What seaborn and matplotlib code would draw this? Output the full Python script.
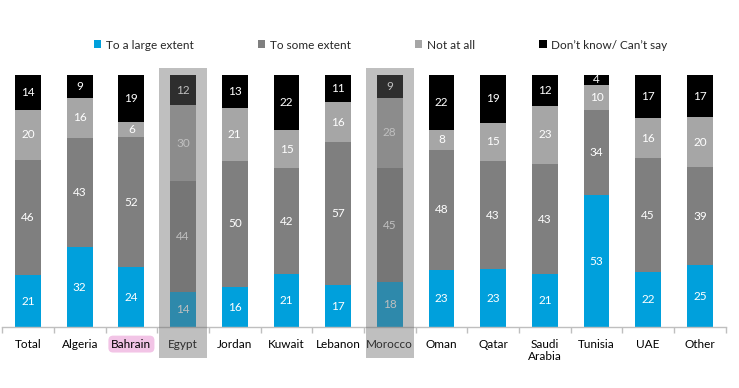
import numpy as np
import pandas as pd
import matplotlib
matplotlib.use("Agg")
import matplotlib.pyplot as plt
import matplotlib.transforms as mtransforms
from matplotlib.patches import Rectangle, Patch
import seaborn as sns

categories = ["Total", "Algeria", "Bahrain", "Egypt", "Jordan", "Kuwait", "Lebanon",
              "Morocco", "Oman", "Qatar", "Saudi\nArabia", "Tunisia", "UAE", "Other"]
large_extent = [21, 32, 24, 14, 16, 21, 17, 18, 23, 23, 21, 53, 22, 25]
some_extent = [46, 43, 52, 44, 50, 42, 57, 45, 48, 43, 43, 34, 45, 39]
not_at_all = [20, 16, 6, 30, 21, 15, 16, 28, 8, 15, 23, 10, 16, 20]
dont_know = [14, 9, 19, 12, 13, 22, 11, 9, 22, 19, 12, 4, 17, 17]
series_names = ["To a large extent", "To some extent", "Not at all", "Don\u2019t know/ Can\u2019t say"]
series_colors = ["#00A0DC", "#7F7F7F", "#A6A6A6", "#000000"]
highlighted = ["Egypt", "Morocco"]
pink_label = "Bahrain"

sns.set_theme(style="white")
plt.rcParams["font.family"] = ["Lato", "DejaVu Sans"]

vals = np.array([large_extent, some_extent, not_at_all, dont_know], dtype=float)
pct = vals / vals.sum(axis=0) * 100.0
cum = np.cumsum(pct, axis=0)

fig = plt.figure(figsize=(7.39, 3.88), dpi=100)
ax = fig.add_axes([0.003, 0.156, 0.979, 0.651])

# Layered cumulative bars (largest first) to form 100% stacks
for i in range(3, -1, -1):
    df = pd.DataFrame({"cat": categories, "v": cum[i]})
    sns.barplot(data=df, x="cat", y="v", color=series_colors[i], width=0.5,
                saturation=1, ax=ax, order=categories, linewidth=0)

# Segment labels
for j in range(len(categories)):
    for i in range(4):
        bottom = cum[i - 1][j] if i > 0 else 0
        mid = bottom + pct[i][j] / 2
        ax.text(j, mid, f"{int(vals[i][j])}", ha="center", va="center",
                color="white", fontsize=8.5)

ax.set_xlim(-0.5, len(categories) - 0.5)
ax.set_ylim(0, 100)
ax.set_xlabel("")
ax.set_ylabel("")
ax.set_yticks([])
for s in ["top", "right", "left"]:
    ax.spines[s].set_visible(False)
ax.spines["bottom"].set_color("#BFBFBF")
ax.spines["bottom"].set_linewidth(1)

# ticks between categories
ax.set_xticks(np.arange(-0.5, len(categories), 1.0), minor=True)
ax.tick_params(axis="x", which="minor", length=4, color="#BFBFBF", width=1, direction="out", bottom=True)
ax.tick_params(axis="x", which="major", length=0, labelsize=8.5, labelcolor="black", pad=8)
ax.set_xticks(range(len(categories)))
ax.set_xticklabels(categories, linespacing=1.2, va="top")
for lbl in ax.get_xticklabels():
    if lbl.get_text() == pink_label:
        lbl.set_bbox(dict(boxstyle="round,pad=0.25,rounding_size=0.4", fc="#F2C4E6", ec="none"))

# Legend
handles = [Patch(facecolor=c, edgecolor="none", label=n) for c, n in zip(series_colors, series_names)]
fig.legend(handles=handles, loc="center", bbox_to_anchor=(0.515, 0.884), ncol=4, frameon=False,
           fontsize=8.5, handlelength=0.65, handleheight=0.65, handletextpad=0.4,
           columnspacing=5.4)

# Grey highlight overlays over Egypt and Morocco
trans = mtransforms.blended_transform_factory(ax.transData, fig.transFigure)
for name in highlighted:
    j = categories.index(name)
    rect = Rectangle((j - 0.465, 0.077), 0.93, 0.748, transform=trans,
                     facecolor="#6B6B6B", alpha=0.43, edgecolor="none", zorder=10)
    fig.add_artist(rect)

fig.savefig("out.png", dpi=100)
